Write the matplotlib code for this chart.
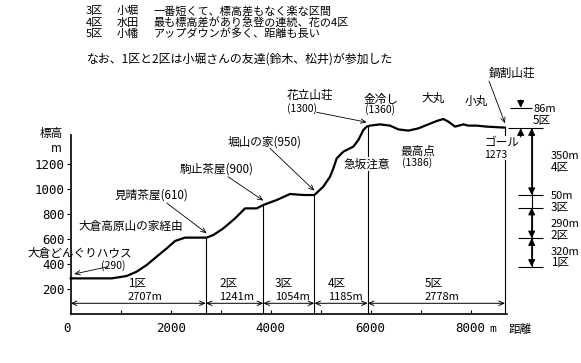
import numpy as np
import matplotlib
matplotlib.use('Agg')
import matplotlib.pyplot as plt

plt.rcParams['font.family'] = ['Noto Sans CJK JP', 'DejaVu Sans']

# ---------------- data ----------------
distance_m = [0, 820, 1120, 1320, 1520, 1720, 1920, 2087, 2287, 2720, 2853, 3053,
              3287, 3487, 3720, 3853, 4120, 4387, 4653, 4873, 5053, 5187, 5253,
              5320, 5453, 5653, 5753, 5853, 5920, 5987, 6187, 6387, 6553, 6753,
              6953, 7120, 7320, 7453, 7553, 7687, 7853, 7953, 8120, 8320, 8686]
elevation_m = [285, 285, 304, 339, 392, 459, 525, 584, 611, 611, 632, 685,
               765, 845, 845, 872, 912, 960, 952, 952, 1019, 1099, 1165,
               1245, 1299, 1339, 1392, 1472, 1499, 1507, 1517, 1507, 1477, 1467,
               1485, 1512, 1544, 1560, 1539, 1499, 1517, 1507, 1507, 1499, 1491]

section_names = ['1区', '2区', '3区', '4区', '5区']
section_lengths = [2707, 1241, 1054, 1185, 2778]
section_ends = [2700, 3853, 4873, 5940, 8686]

x_tick_values = [0, 2000, 4000, 6000, 8000]
x_tick_labels = ['0', '2000', '4000', '6000', '8000']
x_minor_ticks = [1000, 2000, 3000, 4000, 5000, 6000, 7000, 8000]
y_tick_values = [200, 400, 600, 800, 1000, 1200]

climb_levels = [378, 606, 850, 952, 1486, 1650]   # drawn levels of the right-hand scale
climb_values = [320, 290, 50, 350, 86]

landmark_names = ['(290)', '見晴茶屋(610)', '駒止茶屋(900)', '堀山の家(950)', '(1300)', '鍋割山荘']
landmark_dist = [0, 2720, 3853, 4873, 5920, 8686]

header_lines = [('3区', '小堀', '一番短くて、標高差もなく楽な区間'),
                ('4区', '水田', '最も標高差があり急登の連続、花の4区'),
                ('5区', '小幡', 'アップダウンが多く、距離も長い')]
note_line = 'なお、1区と2区は小堀さんの友達(鈴木、松井)が参加した'

# ---------------- layout (pixel geometry) ----------------
W, H = 581, 363
X0, SX = 70.7, 0.05      # x pixel of 0 m, px per metre
Y0, SY = 314.0, 0.125    # y pixel (from top) of 0 m elevation, px per metre
FS = 8.4                 # label font size
FH = 8.0                 # header font size


def P(px, py):
    return ((px - X0) / SX, (Y0 - py) / SY)


fig = plt.figure(figsize=(W / 100, H / 100), dpi=100)
fig.patch.set_facecolor('white')
ax = fig.add_axes([0, 0, 1, 1])
ax.set_xlim(-X0 / SX, (W - X0) / SX)
ax.set_ylim((Y0 - H) / SY, Y0 / SY)

for s in ['top', 'right']:
    ax.spines[s].set_visible(False)
ax.spines['left'].set_position(('data', 0))
ax.spines['bottom'].set_position(('data', 0))
ax.spines['left'].set_bounds(0, 1430)
ax.spines['bottom'].set_bounds(0, 8733)
ax.spines['left'].set_linewidth(1.2)
ax.spines['bottom'].set_linewidth(1.2)

ax.set_yticks(y_tick_values)
ax.set_yticklabels([str(v) for v in y_tick_values])
ax.tick_params(axis='y', direction='out', length=3, width=0.8, pad=1.5, labelsize=9)
for lbl in ax.get_yticklabels():
    lbl.set_fontfamily('DejaVu Sans Mono')
ax.set_xticks(x_minor_ticks)
ax.set_xticklabels([])
ax.tick_params(axis='x', direction='in', length=3, width=0.8)

ty = P(0, 328)[1]
for v, lab in zip(x_tick_values, x_tick_labels):
    ax.text(v, ty, lab, ha='right' if v == 0 else 'center', va='center',
            fontsize=9, family='DejaVu Sans Mono')
ax.text(*P(492.5, 329), 'm', ha='center', va='center', fontsize=8, family='DejaVu Sans Mono')
ax.text(*P(520, 329), '距離', ha='center', va='center', fontsize=FS)
ax.text(*P(51.7, 134), '標高', ha='center', va='center', fontsize=FS)
ax.text(*P(56.7, 149), 'm', ha='center', va='center', fontsize=FS)

# profile
ax.plot(distance_m, elevation_m, color='black', lw=1.6, solid_joinstyle='round')

# section boundaries
bound_top = np.interp(section_ends, distance_m, elevation_m)
ax.vlines(section_ends, 0, bound_top, color='black', lw=0.8)

# section arrows and labels
starts = [0] + section_ends[:-1]
arr_y = P(0, 303.3)[1]
label_left_px = [128, 219, 275, 328, 425]
for s, e, name, length, lx in zip(starts, section_ends, section_names, section_lengths, label_left_px):
    ax.annotate('', xy=(e, arr_y), xytext=(s, arr_y),
                arrowprops=dict(arrowstyle='<->,head_length=0.45,head_width=0.2',
                                lw=0.7, shrinkA=0, shrinkB=0, mutation_scale=8))
    ax.text(P(lx, 0)[0], P(0, 284)[1], name, ha='left', va='center', fontsize=FS)
    ax.text(P(lx, 0)[0], P(0, 296.7)[1], f'{length}m', ha='left', va='center', fontsize=8)

# landmark annotations
arrow_kw = dict(arrowstyle='->,head_length=0.45,head_width=0.2', lw=0.6,
                shrinkA=0, shrinkB=0, mutation_scale=8)
arrow_starts_px = [(108, 266.7), (166.7, 203), (228, 176.7), (270, 148.3), (316.7, 112.3), (489, 81)]
land_elev = np.interp(landmark_dist, distance_m, elevation_m)
for (sx, sy), d, el in zip(arrow_starts_px, landmark_dist, land_elev):
    tip_x = d + (70 if d == 0 else 0)
    ax.annotate('', xy=(tip_x, el + 35), xytext=P(sx, sy), arrowprops=arrow_kw)

ax.text(*P(27, 253.5), '大倉どんぐりハウス', ha='left', va='center', fontsize=FS)
ax.text(*P(113, 265.5), landmark_names[0], ha='center', va='center', fontsize=7.5)
ax.text(*P(78, 226.7), '大倉高原山の家経由', ha='left', va='center', fontsize=FS)
ax.text(*P(115, 195), landmark_names[1], ha='left', va='center', fontsize=FS)
ax.text(*P(180, 169.3), landmark_names[2], ha='left', va='center', fontsize=FS)
ax.text(*P(228, 141.7), landmark_names[3], ha='left', va='center', fontsize=FS)
ax.text(*P(286.7, 95.7), '花立山荘', ha='left', va='center', fontsize=FS)
ax.text(*P(286.7, 108.3), landmark_names[4], ha='left', va='center', fontsize=7.5)
ax.text(*P(364, 99), '金冷し', ha='left', va='center', fontsize=FS)
ax.text(*P(365, 109.5), '(1360)', ha='left', va='center', fontsize=7.5)
ax.text(*P(433, 98), '大丸', ha='center', va='center', fontsize=FS)
ax.text(*P(476, 101.5), '小丸', ha='center', va='center', fontsize=FS)
ax.text(*P(400.7, 151.7), '最高点', ha='left', va='center', fontsize=FS)
ax.text(*P(401.7, 162.3), '(1386)', ha='left', va='center', fontsize=7.5)
ax.text(*P(366.5, 164), '急坂注意', ha='center', va='center', fontsize=FS,
        bbox=dict(facecolor='white', edgecolor='none', pad=0.5))
ax.text(*P(484, 142.7), 'ゴール', ha='left', va='center', fontsize=FS,
        bbox=dict(facecolor='white', edgecolor='none', pad=0.3))
ax.text(*P(484, 155), '1273', ha='left', va='center', fontsize=7.5,
        bbox=dict(facecolor='white', edgecolor='none', pad=0.3))
ax.text(*P(512, 73), landmark_names[5], ha='center', va='center', fontsize=FS)

# right-hand climb scale
col_x = P(531.7, 0)[0]
col86_x = P(520.7, 0)[0]
ax.vlines(col_x, climb_levels[0], climb_levels[4], color='black', lw=0.8)
ax.hlines(climb_levels[:4], P(518.3, 0)[0], P(543.3, 0)[0], color='black', lw=0.8)
ax.hlines(climb_levels[4], P(508, 0)[0], P(543, 0)[0], color='black', lw=0.8)
ax.hlines(climb_levels[5], P(510, 0)[0], col_x, color='black', lw=0.8)
head_kw = dict(lw=0.8, shrinkA=0, shrinkB=0, mutation_scale=7, color='black')
for i in [0, 1, 3]:
    ax.annotate('', xy=(col_x, climb_levels[i + 1]), xytext=(col_x, climb_levels[i]),
                arrowprops=dict(arrowstyle='<|-|>,head_length=0.6,head_width=0.3', **head_kw))
ax.annotate('', xy=(col86_x, climb_levels[5]), xytext=(col86_x, climb_levels[5] + 62),
            arrowprops=dict(arrowstyle='-|>,head_length=0.6,head_width=0.3', **head_kw))
ax.annotate('', xy=(col86_x, climb_levels[4]), xytext=(col86_x, climb_levels[4] - 70),
            arrowprops=dict(arrowstyle='-|>,head_length=0.6,head_width=0.3', **head_kw))

climb_text_px = [(550.7, 252, 262.7), (550.7, 224, 235), (550.7, 196, 207),
                 (550.7, 156, 167), (533, 109, 120.7)]
for (lx, y1, y2), v, name in zip(climb_text_px, climb_values, section_names):
    ax.text(*P(lx, y1), f'{v}m', ha='left', va='center', fontsize=8)
    ax.text(*P(lx, y2), name, ha='left', va='center', fontsize=FS)

# header text
for (a, b, c), yy in zip(header_lines, [11, 22.7, 34]):
    ax.text(*P(86, yy), a, ha='left', va='center', fontsize=FH)
    ax.text(*P(117, yy), b, ha='left', va='center', fontsize=FH)
    ax.text(*P(153.5, yy), c, ha='left', va='center', fontsize=FH)
ax.text(*P(87, 59.3), note_line, ha='left', va='center', fontsize=8.6)

fig.savefig('out.png', dpi=100, facecolor='white')
